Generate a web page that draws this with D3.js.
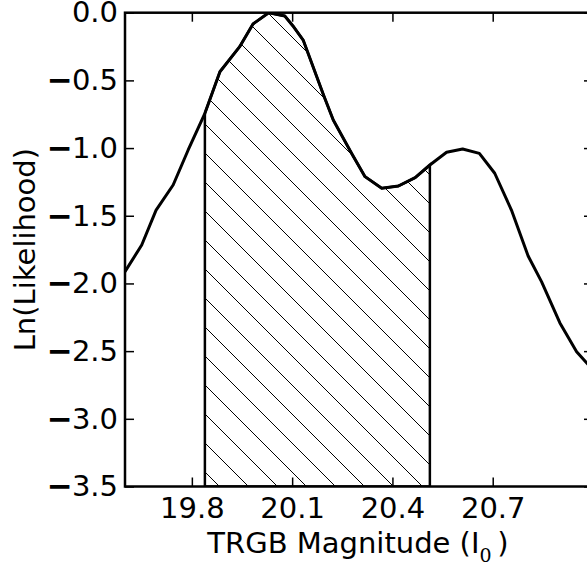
<!DOCTYPE html>
<html>
<head>
<meta charset="utf-8">
<script src="https://cdn.jsdelivr.net/npm/d3@7"></script>
<style>
  body { margin: 0; background: #fff; overflow: hidden; }
  text { font-family: "DejaVu Sans", sans-serif; fill: #000; }
</style>
</head>
<body>
<div id="chart"></div>
<script>
// likelihood curve
const magnitudes = [19.600, 19.650, 19.693, 19.744, 19.789, 19.839, 19.884, 19.943, 19.983, 20.030,
                    20.078, 20.105, 20.133, 20.195, 20.223, 20.279, 20.318, 20.368, 20.418, 20.468,
                    20.512, 20.562, 20.610, 20.660, 20.706, 20.756, 20.806, 20.846, 20.901, 20.951, 21.000];
const lnLike = [-1.913, -1.716, -1.458, -1.273, -1.014, -0.743, -0.436, -0.251, -0.083, 0.000,
                -0.024, -0.106, -0.202, -0.615, -0.793, -1.044, -1.211, -1.297, -1.280, -1.219,
                -1.125, -1.031, -1.007, -1.039, -1.186, -1.458, -1.797, -1.987, -2.292, -2.504, -2.640];
const hatchRange = [19.839, 20.512];
const xDomain = [19.6, 21.0];
const yDomain = [-3.5, 0];
const xTicks = [19.8, 20.1, 20.4, 20.7];
const yTicks = [-3.5, -3.0, -2.5, -2.0, -1.5, -1.0, -0.5, 0.0];

const W = 587, H = 565;
const plotL = 125, plotR = 593, plotT = 12.7, plotB = 486.5;

const svg = d3.select("#chart").append("svg")
    .attr("width", W)
    .attr("height", H);

const x = d3.scaleLinear().domain(xDomain).range([plotL, plotR]);
const y = d3.scaleLinear().domain(yDomain).range([plotB, plotT]);

const defs = svg.append("defs");
defs.append("clipPath").attr("id", "plotclip")
  .append("rect")
    .attr("x", plotL).attr("y", plotT)
    .attr("width", plotR - plotL).attr("height", plotB - plotT);

const hatch = defs.append("pattern")
    .attr("id", "hatch")
    .attr("patternUnits", "userSpaceOnUse")
    .attr("width", 29).attr("height", 29)
    .attr("patternTransform", "translate(0,6)");
hatch.append("path")
    .attr("d", "M-2,-2L31,31M-2,27L2,31M27,-2L31,2")
    .attr("stroke", "#000")
    .attr("stroke-width", 1)
    .attr("fill", "none");

const pts = magnitudes.map((m, i) => [m, lnLike[i]]);

// interpolate curve at the hatch edges
function curveAt(m) {
  for (let i = 1; i < pts.length; i++) {
    if (pts[i][0] >= m) {
      const t = (m - pts[i - 1][0]) / (pts[i][0] - pts[i - 1][0]);
      return pts[i - 1][1] + t * (pts[i][1] - pts[i - 1][1]);
    }
  }
  return pts[pts.length - 1][1];
}
const fillPts = [[hatchRange[0], curveAt(hatchRange[0])]]
  .concat(pts.filter(p => p[0] > hatchRange[0] && p[0] < hatchRange[1]))
  .concat([[hatchRange[1], curveAt(hatchRange[1])]]);

const plot = svg.append("g").attr("clip-path", "url(#plotclip)");

plot.append("path")
    .datum(fillPts)
    .attr("d", d3.area().x(d => x(d[0])).y0(y(-3.5)).y1(d => y(d[1])))
    .attr("fill", "url(#hatch)")
    .attr("stroke", "#000")
    .attr("stroke-width", 2.5);

plot.append("path")
    .datum(pts)
    .attr("d", d3.line().x(d => x(d[0])).y(d => y(d[1])))
    .attr("fill", "none")
    .attr("stroke", "#000")
    .attr("stroke-width", 3)
    .attr("stroke-linejoin", "round");

const fmt = d3.format(".1f");

function styleAxis(g) {
  g.select(".domain").remove();
  g.selectAll(".tick line").attr("stroke", "#000").attr("stroke-width", 1.5);
  g.selectAll(".tick text").style("font-size", "29px").attr("fill", "#000");
}

// the minus in the reference is drawn heavier than the font's glyph
function boldMinus(g) {
  g.selectAll(".tick text").each(function() {
    const t = d3.select(this);
    const s = t.text();
    if (s.startsWith("\u2212")) {
      t.text(null);
      t.append("tspan").text("\u2212").attr("stroke", "#000").attr("stroke-width", 1.3);
      t.append("tspan").text(s.slice(1));
    }
  });
}

svg.append("g")
    .attr("transform", `translate(0,${plotB})`)
    .call(d3.axisBottom(x).tickValues(xTicks).tickFormat(fmt).tickSizeInner(-9).tickSizeOuter(0).tickPadding(11))
    .call(styleAxis);
svg.append("g")
    .attr("transform", `translate(0,${plotT})`)
    .call(d3.axisTop(x).tickValues(xTicks).tickFormat("").tickSizeInner(-9).tickSizeOuter(0))
    .call(styleAxis);
svg.append("g")
    .attr("transform", `translate(${plotL},0)`)
    .call(d3.axisLeft(y).tickValues(yTicks).tickFormat(fmt).tickSizeInner(-9).tickSizeOuter(0).tickPadding(7))
    .call(styleAxis)
    .call(boldMinus);
svg.append("g")
    .attr("transform", `translate(${plotR},0)`)
    .call(d3.axisRight(y).tickValues(yTicks).tickFormat("").tickSizeInner(-9).tickSizeOuter(0))
    .call(styleAxis);

// frame
svg.append("rect")
    .attr("x", plotL).attr("y", plotT)
    .attr("width", plotR - plotL).attr("height", plotB - plotT)
    .attr("fill", "none")
    .attr("stroke", "#000")
    .attr("stroke-width", 2.5);

// axis labels
const xl = svg.append("text")
    .attr("x", (plotL + plotR) / 2 - 1)
    .attr("y", 553)
    .attr("text-anchor", "middle")
    .style("font-size", "29px");
xl.append("tspan").text("TRGB Magnitude (I");
xl.append("tspan").attr("dy", 9).style("font-size", "19px")
    .style("font-family", "'DejaVu Serif', serif").text("0");
xl.append("tspan").attr("dy", -9).text("\u2009)");

svg.append("text")
    .attr("transform", `translate(35,${(plotT + plotB) / 2}) rotate(-90)`)
    .attr("text-anchor", "middle")
    .style("font-size", "29px")
    .text("Ln(Likelihood)");
</script>
</body>
</html>
